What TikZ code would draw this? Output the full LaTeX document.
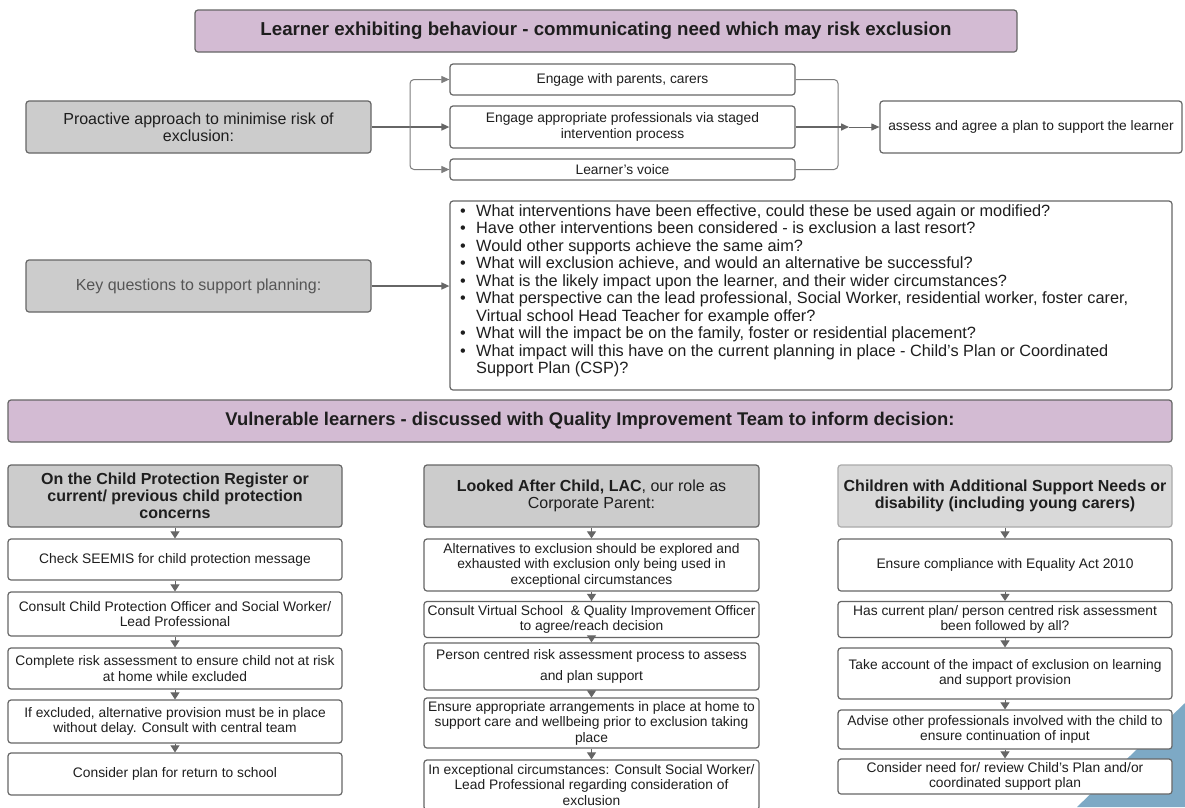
\documentclass[tikz,border=0pt]{standalone}
\usepackage{fontspec}
\setmainfont{Liberation Sans}
\usetikzlibrary{arrows.meta}
\definecolor{mauve}{HTML}{D3BBD3}
\definecolor{hdr}{HTML}{CCCCCC}
\definecolor{hdrlight}{HTML}{D9D9D9}
\definecolor{edgecol}{HTML}{666666}
\definecolor{edgelight}{HTML}{AAAAAA}
\definecolor{txt}{HTML}{1E1E1E}
\definecolor{keytxt}{HTML}{555555}
\definecolor{corner}{HTML}{7DA9C5}
\tikzset{
  box/.style={draw=edgecol, line width=1.2pt, rounded corners=3pt, fill=white,
    align=center, inner sep=1pt, text=txt, font=\fontsize{13.8}{15.5}\selectfont},
  bar/.style={box, fill=mauve, font=\fontsize{18.7}{21}\selectfont\bfseries},
  hdrbox/.style={box, fill=hdr, font=\fontsize{16}{17.2}\selectfont\bfseries},
  leftbox/.style={box, fill=hdr, font=\fontsize{16}{17}\selectfont},
  conn/.style={draw=edgecol, line width=1.5pt, -{Triangle[width=7pt,length=8pt]}},
  branch/.style={draw=edgecol!85, line width=1pt, rounded corners=4pt, -{Triangle[width=7pt,length=8pt]}},
  merge/.style={draw=edgecol!85, line width=1pt, rounded corners=4pt},
  down/.style={draw=edgecol, line width=1pt, -{Triangle[width=9pt,length=7pt]}},
}
\begin{document}
\begin{tikzpicture}[x=1pt,y=-1pt]
\useasboundingbox (0,0) rectangle (1185,807);
\fill[white] (0,0) rectangle (1185,807);

% top title
\node[bar, minimum width=822pt, minimum height=42pt] (title) at (606,31)
  {Learner exhibiting behaviour - communicating need which may risk exclusion};

% proactive
\node[leftbox, minimum width=345pt, minimum height=52pt] (pro) at (198.5,127)
  {Proactive approach to minimise risk of\\exclusion:};
\node[box, minimum width=345pt, minimum height=31pt] (e1) at (622.5,79.5)
  {Engage with parents, carers};
\node[box, minimum width=345pt, minimum height=42pt] (e2) at (622.5,127)
  {Engage appropriate professionals via staged\\intervention process};
\node[box, minimum width=345pt, minimum height=21pt] (e3) at (622.5,169.5)
  {Learner's voice};
\node[box, minimum width=302pt, minimum height=52pt] (assess) at (1031,127)
  {assess and agree a plan to support the learner};

\coordinate (br) at (410,127);
\coordinate (jn) at (838,127);
\coordinate (mg) at (849,127);
\draw[conn] (pro.east) -- (e2.west);
\draw[branch] (br) |- (e1.west);
\draw[branch] (br) |- (e3.west);
\draw[merge] (e1.east) -| (jn);
\draw[merge] (e3.east) -| (jn);
\draw[conn] (e2.east) -- (mg);
\draw[conn, line width=1pt] (mg) -- (assess.west);

% key questions
\node[leftbox, text=keytxt, minimum width=345pt, minimum height=52pt] (key) at (198.5,286)
  {Key questions to support planning:};
\node[box, minimum width=722pt, minimum height=189pt] (q) at (811,295.5) {};
\node[anchor=north west, inner sep=0pt, align=left, text=txt,
  font=\fontsize{16.3}{17.5}\selectfont] (qt) at (460,204)
  {\makebox[16pt][l]{•}What interventions have been effective, could these be used again or modified?\\
   \makebox[16pt][l]{•}Have other interventions been considered - is exclusion a last resort?\\
   \makebox[16pt][l]{•}Would other supports achieve the same aim?\\
   \makebox[16pt][l]{•}What will exclusion achieve, and would an alternative be successful?\\
   \makebox[16pt][l]{•}What is the likely impact upon the learner, and their wider circumstances?\\
   \makebox[16pt][l]{•}What perspective can the lead professional, Social Worker, residential worker, foster carer,\\
   \hspace*{16pt}Virtual school Head Teacher for example offer?\\
   \makebox[16pt][l]{•}What will the impact be on the family, foster or residential placement?\\
   \makebox[16pt][l]{•}What impact will this have on the current planning in place - Child's Plan or Coordinated\\
   \hspace*{16pt}Support Plan (CSP)?};
\draw[conn] (key.east) -- (key.east -| q.west);

% vulnerable bar
\node[bar, font=\fontsize{18.4}{21}\selectfont\bfseries, minimum width=1164pt, minimum height=42pt] (vul) at (590,421)
  {Vulnerable learners - discussed with Quality Improvement Team to inform decision:};

% blue corner
\fill[corner] (1077,807) -- (1185,703) -- (1185,807) -- cycle;

% column 1
\node[hdrbox, minimum width=334pt, minimum height=62pt] (h1) at (175,496)
  {On the Child Protection Register or\\current/ previous child protection\\concerns};
\node[box, minimum width=334pt, minimum height=41pt] (a1) at (175,559.5)
  {Check SEEMIS for child protection message};
\node[box, minimum width=334pt, minimum height=44pt] (a2) at (175,614)
  {Consult Child Protection Officer and Social Worker/\\Lead Professional};
\node[box, minimum width=334pt, minimum height=41pt] (a3) at (175,668.5)
  {Complete risk assessment to ensure child not at risk\\at home while excluded};
\node[box, minimum width=334pt, minimum height=43pt] (a4) at (175,721.5)
  {If excluded, alternative provision must be in place\\without delay. Consult with central team};
\node[box, minimum width=334pt, minimum height=42pt] (a5) at (175,774)
  {Consider plan for return to school};
\draw[down] (h1.south) -- (a1.north);
\draw[down] (a1.south) -- (a2.north);
\draw[down] (a2.south) -- (a3.north);
\draw[down] (a3.south) -- (a4.north);
\draw[down] (a4.south) -- (a5.north);

% column 2
\node[hdrbox, font=\fontsize{16}{17.2}\selectfont, minimum width=335pt, minimum height=62pt] (h2) at (591.5,496)
  {\textbf{Looked After Child, LAC}, our role as\\Corporate Parent:};
\node[box, minimum width=335pt, minimum height=52pt] (b1) at (591.5,565)
  {Alternatives to exclusion should be explored and\\exhausted with exclusion only being used in\\exceptional circumstances};
\node[box, minimum width=335pt, minimum height=36pt] (b2) at (591.5,619.5)
  {Consult Virtual School \ \& Quality Improvement Officer\\to agree/reach decision};
\node[box, minimum width=335pt, minimum height=47pt] (b3) at (591.5,666.5)
  {Person centred risk assessment process to assess\\[6pt]and plan support};
\node[box, minimum width=335pt, minimum height=50pt] (b4) at (591.5,723)
  {Ensure appropriate arrangements in place at home to\\support care and wellbeing prior to exclusion taking\\place};
\node[box, minimum width=335pt, minimum height=50pt] (b5) at (591.5,785)
  {In exceptional circumstances: Consult Social Worker/\\Lead Professional regarding consideration of\\exclusion};
\draw[down] (h2.south) -- (b1.north);
\draw[down] (b1.south) -- (b2.north);
\draw[down] (b2.south) -- (b3.north);
\draw[down] (b3.south) -- (b4.north);
\draw[down] (b4.south) -- (b5.north);

% column 3
\node[hdrbox, fill=hdrlight, draw=edgelight, minimum width=334pt, minimum height=62pt] (h3) at (1005,496)
  {Children with Additional Support Needs or\\disability (including young carers)};
\node[box, minimum width=334pt, minimum height=52pt] (c1) at (1005,565)
  {Ensure compliance with Equality Act 2010};
\node[box, minimum width=334pt, minimum height=36pt] (c2) at (1005,619.5)
  {Has current plan/ person centred risk assessment\\been followed by all?};
\node[box, minimum width=334pt, minimum height=51pt] (c3) at (1005,673.5)
  {Take account of the impact of exclusion on learning\\and support provision};
\node[box, minimum width=334pt, minimum height=39pt] (c4) at (1005,729.5)
  {Advise other professionals involved with the child to\\ensure continuation of input};
\node[box, minimum width=334pt, minimum height=35pt] (c5) at (1005,776.5)
  {Consider need for/ review Child's Plan and/or\\coordinated support plan};
\draw[down] (h3.south) -- (c1.north);
\draw[down] (c1.south) -- (c2.north);
\draw[down] (c2.south) -- (c3.north);
\draw[down] (c3.south) -- (c4.north);
\draw[down] (c4.south) -- (c5.north);
\end{tikzpicture}
\end{document}
